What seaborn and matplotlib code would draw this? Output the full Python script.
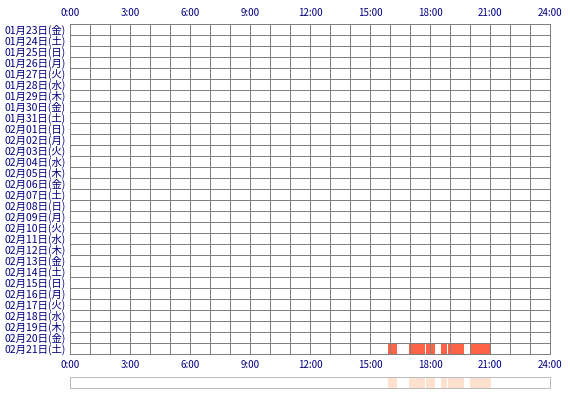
import matplotlib
matplotlib.use("Agg")
import matplotlib.pyplot as plt
import seaborn as sns

# 日付ラベル (上から下へ)
days = [
    "01月23日(金)", "01月24日(土)", "01月25日(日)", "01月26日(月)", "01月27日(火)",
    "01月28日(水)", "01月29日(木)", "01月30日(金)", "01月31日(土)", "02月01日(日)",
    "02月02日(月)", "02月03日(火)", "02月04日(水)", "02月05日(木)", "02月06日(金)",
    "02月07日(土)", "02月08日(日)", "02月09日(月)", "02月10日(火)", "02月11日(水)",
    "02月12日(木)", "02月13日(金)", "02月14日(土)", "02月15日(日)", "02月16日(月)",
    "02月17日(火)", "02月18日(水)", "02月19日(木)", "02月20日(金)", "02月21日(土)",
]
hour_ticks = [0, 3, 6, 9, 12, 15, 18, 21, 24]
hour_labels = ["0:00", "3:00", "6:00", "9:00", "12:00", "15:00", "18:00", "21:00", "24:00"]

# 活動時間帯 (時)
active_day = "02月21日(土)"
seg_start = [15.9, 16.95, 17.8, 18.55, 18.9, 20.0]
seg_end = [16.35, 17.75, 18.25, 18.85, 19.7, 21.05]

sns.set_style("white")
plt.rcParams["font.family"] = ["Noto Sans CJK JP", "DejaVu Sans"]

grid_c = "#808080"
txt_c = "#000080"
lw = 0.72  # 1px

fig = plt.figure(figsize=(5.7, 4.0), dpi=100)
ax = fig.add_axes([70 / 570, 46 / 400, 480 / 570, 330 / 400])

row = days.index(active_day)
segs = [(s, e - s) for s, e in zip(seg_start, seg_end)]
ax.broken_barh(segs, (row, 1), facecolor="#FF6347", edgecolor="none", zorder=1)

ax.set_xlim(0, 24)
ax.set_ylim(len(days), 0)
ax.xaxis.remove_overlapping_locs = False
ax.set_xticks(hour_ticks)
ax.set_xticklabels(hour_labels)
ax.set_xticks(range(25), minor=True)
ax.set_yticks([i + 0.5 for i in range(len(days))])
ax.set_yticklabels(days)
ax.set_yticks(range(len(days) + 1), minor=True)
ax.grid(which="minor", color=grid_c, linewidth=lw, zorder=2, snap=True, antialiased=False)
ax.set_axisbelow(False)
ax.tick_params(which="both", length=0)
ax.tick_params(axis="x", top=True, labeltop=True, labelsize=7, colors=txt_c, pad=4.3)
ax.tick_params(axis="y", labelsize=7.5, colors=txt_c, pad=3)
for sp in ax.spines.values():
    sp.set_color(grid_c)
    sp.set_linewidth(lw)

# 下部の概要バー
ax2 = fig.add_axes([70 / 570, 12 / 400, 480 / 570, 11 / 400])
ax2.broken_barh(segs, (0, 1), facecolor="#FFE1D0", edgecolor="none")
ax2.set_xlim(0, 24)
ax2.set_ylim(0, 1)
ax2.set_xticks([])
ax2.set_yticks([])
for sp in ax2.spines.values():
    sp.set_color("#BBBBBB")
    sp.set_linewidth(lw)

fig.savefig("out.png", dpi=100)
